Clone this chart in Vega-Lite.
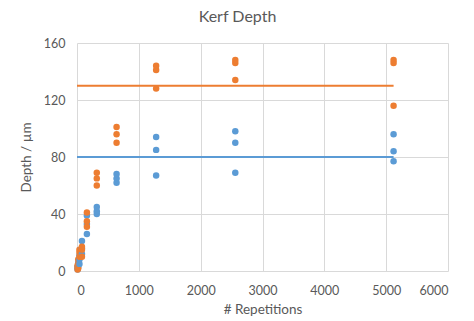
{
  "$schema": "https://vega.github.io/schema/vega-lite/v6.json",
  "width": 371,
  "height": 228,
  "autosize": {"type": "none"},
  "padding": {"left": 77, "top": 43, "right": 26, "bottom": 50},
  "background": "white",
  "config": {
    "view": {"stroke": null},
    "font": "Lato",
    "axis": {"labelFont": "Lato", "titleFont": "Lato", "labelColor": "#595959", "titleColor": "#595959", "labelFontSize": 12.5, "titleFontSize": 13.5, "titleFontWeight": "normal", "gridColor": "#d9d9d9", "domain": false, "ticks": false}
  },
  "title": {"text": "Kerf Depth", "font": "Lato", "fontSize": 16, "fontWeight": "normal", "color": "#595959", "anchor": "middle", "frame": "group", "dx": -25, "offset": 12},
  "datasets": {
    "pts": [
      {"series": "A", "reps": 10, "depth": 1}, {"series": "A", "reps": 10, "depth": 2}, {"series": "A", "reps": 10, "depth": 3},
      {"series": "B", "reps": 10, "depth": 1}, {"series": "B", "reps": 10, "depth": 3}, {"series": "B", "reps": 10, "depth": 4},
      {"series": "A", "reps": 20, "depth": 3}, {"series": "A", "reps": 20, "depth": 5}, {"series": "A", "reps": 20, "depth": 6},
      {"series": "B", "reps": 20, "depth": 2}, {"series": "B", "reps": 20, "depth": 5}, {"series": "B", "reps": 20, "depth": 8},
      {"series": "A", "reps": 40, "depth": 5}, {"series": "A", "reps": 40, "depth": 8}, {"series": "A", "reps": 40, "depth": 11},
      {"series": "B", "reps": 40, "depth": 10}, {"series": "B", "reps": 40, "depth": 13}, {"series": "B", "reps": 40, "depth": 15},
      {"series": "A", "reps": 80, "depth": 12}, {"series": "A", "reps": 80, "depth": 16}, {"series": "A", "reps": 80, "depth": 21},
      {"series": "B", "reps": 80, "depth": 10}, {"series": "B", "reps": 80, "depth": 15}, {"series": "B", "reps": 80, "depth": 17},
      {"series": "A", "reps": 160, "depth": 26}, {"series": "A", "reps": 160, "depth": 33}, {"series": "A", "reps": 160, "depth": 39},
      {"series": "B", "reps": 160, "depth": 31}, {"series": "B", "reps": 160, "depth": 35}, {"series": "B", "reps": 160, "depth": 41},
      {"series": "A", "reps": 320, "depth": 40}, {"series": "A", "reps": 320, "depth": 42}, {"series": "A", "reps": 320, "depth": 45},
      {"series": "B", "reps": 320, "depth": 60}, {"series": "B", "reps": 320, "depth": 65}, {"series": "B", "reps": 320, "depth": 69},
      {"series": "A", "reps": 640, "depth": 62}, {"series": "A", "reps": 640, "depth": 65}, {"series": "A", "reps": 640, "depth": 68},
      {"series": "B", "reps": 640, "depth": 90}, {"series": "B", "reps": 640, "depth": 96}, {"series": "B", "reps": 640, "depth": 101},
      {"series": "A", "reps": 1280, "depth": 67}, {"series": "A", "reps": 1280, "depth": 85}, {"series": "A", "reps": 1280, "depth": 94},
      {"series": "B", "reps": 1280, "depth": 128}, {"series": "B", "reps": 1280, "depth": 141}, {"series": "B", "reps": 1280, "depth": 144},
      {"series": "A", "reps": 2560, "depth": 69}, {"series": "A", "reps": 2560, "depth": 90}, {"series": "A", "reps": 2560, "depth": 98},
      {"series": "B", "reps": 2560, "depth": 134}, {"series": "B", "reps": 2560, "depth": 146}, {"series": "B", "reps": 2560, "depth": 148},
      {"series": "A", "reps": 5120, "depth": 77}, {"series": "A", "reps": 5120, "depth": 84}, {"series": "A", "reps": 5120, "depth": 96},
      {"series": "B", "reps": 5120, "depth": 116}, {"series": "B", "reps": 5120, "depth": 146}, {"series": "B", "reps": 5120, "depth": 148}
    ],
    "lines": [
      {"series": "A", "start": 0, "end": 5120, "depth": 80},
      {"series": "B", "start": 0, "end": 5120, "depth": 130}
    ]
  },
  "layer": [
    {
      "data": {"name": "lines"},
      "mark": {"type": "rule", "strokeWidth": 2},
      "encoding": {
        "x": {"field": "start", "type": "quantitative", "scale": {"domain": [0, 6000]}, "axis": {"values": [0, 1000, 2000, 3000, 4000, 5000, 6000], "format": "d", "title": "# Repetitions", "labelPadding": 13, "titlePadding": 6}},
        "x2": {"field": "end"},
        "y": {"field": "depth", "type": "quantitative", "scale": {"domain": [0, 160]}, "axis": {"values": [0, 40, 80, 120, 160], "title": "Depth / µm", "labelPadding": 12, "titlePadding": 10}},
        "color": {"field": "series", "type": "nominal", "scale": {"domain": ["A", "B"], "range": ["#5B9BD5", "#ED7D31"]}, "legend": null}
      }
    },
    {
      "data": {"name": "pts"},
      "mark": {"type": "circle", "size": 42, "opacity": 1},
      "encoding": {
        "x": {"field": "reps", "type": "quantitative"},
        "y": {"field": "depth", "type": "quantitative"},
        "color": {"field": "series", "type": "nominal", "legend": null}
      }
    }
  ]
}
